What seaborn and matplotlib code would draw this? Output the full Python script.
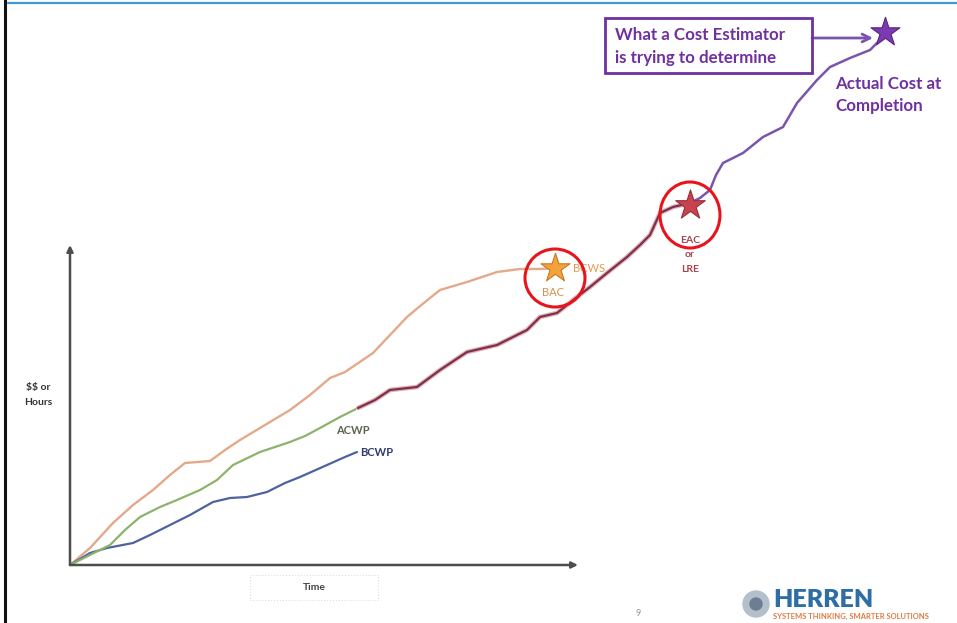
import matplotlib
matplotlib.use("Agg")
import matplotlib.pyplot as plt
from matplotlib.patches import Ellipse, Rectangle, Circle
import seaborn as sns
import pandas as pd

# Earned-value curves: time since project start vs. cumulative $$ / hours
bcws_t = [0, 20, 43, 63, 83, 100, 115, 140, 155, 170, 195, 220, 240, 260, 275, 303, 320, 337, 355, 370, 397, 427, 450, 470, 485]
bcws_v = [0, 17, 42, 60, 75, 90, 102, 104, 115, 125, 140, 155, 170, 187, 193, 212, 230, 248, 263, 275, 283, 293, 296, 296, 297]

acwp_t = [0, 20, 40, 55, 70, 90, 107, 130, 147, 163, 190, 220, 235, 250, 270, 288]
acwp_v = [0, 10, 20, 35, 48, 58, 65, 75, 85, 100, 113, 123, 129, 137, 148, 157]

bcwp_t = [0, 20, 37, 63, 80, 100, 120, 143, 160, 177, 197, 215, 230, 257, 275, 287]
bcwp_v = [0, 12, 17, 22, 30, 40, 50, 63, 67, 68, 73, 82, 88, 100, 108, 113]

eac_t = [288, 305, 320, 347, 370, 397, 427, 457, 470, 487, 507, 520, 537, 557, 570, 580, 590, 603, 620]
eac_v = [157, 165, 175, 178, 195, 213, 220, 235, 248, 252, 268, 278, 292, 308, 320, 330, 352, 358, 362]

actual_t = [620, 630, 640, 646, 653, 673, 693, 713, 720, 727, 747, 760, 780, 800, 808, 813]
actual_v = [362, 367, 375, 390, 402, 412, 428, 438, 450, 462, 485, 498, 507, 515, 523, 532]

# Milestone stars
bac_pt = (485, 297)
eac_pt = (620, 360)
final_pt = (815, 533)

axis_len_t = 508
axis_len_v = 320

PURPLE = "#7030A0"
LINE_PURPLE = "#7B55AD"

sns.set_theme(style="white")
plt.rcParams["font.family"] = ["Lato", "DejaVu Sans"]
plt.rcParams["text.parse_math"] = False

fig = plt.figure(figsize=(9.57, 6.23), dpi=100)
ax = fig.add_axes([0, 0, 1, 1])
ax.set_xlim(-70, 887)
ax.set_ylim(-58, 565)
ax.axis("off")

def frame(t, v, name):
    return pd.DataFrame({"t": t, "v": v, "series": name})

# Slide frame: blue rule at top, black rule at left
ax.plot([0.008, 1.0], [0.995, 0.995], transform=ax.transAxes, color="#3D9AD6", lw=1.6)
ax.plot([0.005, 0.005], [0.0, 1.0], transform=ax.transAxes, color="#111111", lw=2.2)

# Axes arrows
arrow_kw = dict(arrowstyle="-|>", color="#4d4d4d", lw=1.8, mutation_scale=9, shrinkA=0, shrinkB=0)
ax.annotate("", xy=(0, axis_len_v), xytext=(0, 0), arrowprops=arrow_kw)
ax.annotate("", xy=(axis_len_t, 0), xytext=(0, 0), arrowprops=arrow_kw)

# Curves
sns.lineplot(data=frame(bcws_t, bcws_v, "BCWS"), x="t", y="v", ax=ax, color="#E3A98A", lw=1.7, sort=False, legend=False)
sns.lineplot(data=frame(bcwp_t, bcwp_v, "BCWP"), x="t", y="v", ax=ax, color="#4E62A2", lw=1.6, sort=False, legend=False)
sns.lineplot(data=frame(acwp_t, acwp_v, "ACWP"), x="t", y="v", ax=ax, color="#8DB36B", lw=1.6, sort=False, legend=False)
sns.lineplot(data=frame(eac_t, eac_v, "EAC"), x="t", y="v", ax=ax, color="#E2B5BE", lw=3.4, sort=False, legend=False)
sns.lineplot(data=frame(eac_t, eac_v, "EAC"), x="t", y="v", ax=ax, color="#7E3046", lw=1.6, sort=False, legend=False)
sns.lineplot(data=frame(actual_t, actual_v, "Actual"), x="t", y="v", ax=ax, color=LINE_PURPLE, lw=1.8, sort=False, legend=False)

# Stars
ax.scatter([bac_pt[0]], [bac_pt[1]], marker="*", s=480, color="#F2A33A", edgecolor="#C77A25", lw=0.8, zorder=5)
ax.scatter([eac_pt[0]], [eac_pt[1]], marker="*", s=500, color="#C8424F", edgecolor="#9A2E3A", lw=0.8, zorder=5)
ax.scatter([final_pt[0]], [final_pt[1]], marker="*", s=480, color="#7B3AB0", edgecolor="#5A2385", lw=0.8, zorder=5)

# Red highlight circles
ax.add_patch(Ellipse((bac_pt[0], bac_pt[1] - 10), 60, 58, fill=False, ec="#E8141B", lw=2.2, zorder=6))
ax.add_patch(Ellipse((eac_pt[0], eac_pt[1] - 10), 60, 66, fill=False, ec="#E8141B", lw=2.2, zorder=6))

# Curve labels
ax.text(bac_pt[0] + 18, bac_pt[1], "BCWS", color="#E39A50", fontsize=8, ha="left", va="center")
ax.text(bac_pt[0] - 2, bac_pt[1] - 25, "BAC", color="#D8904A", fontsize=8, ha="center", va="center")
ax.text(eac_pt[0], eac_pt[1] - 31, "EAC\nor\nLRE", color="#A8404D", fontsize=7.5, fontweight="bold",
        ha="center", va="top", linespacing=1.75)
ax.text(283, 135, "ACWP", color="#5B6650", fontsize=8, fontweight="bold", ha="center", va="center")
ax.text(307, 113, "BCWP", color="#2F3C72", fontsize=8, fontweight="bold", ha="center", va="center")
ax.text(-32, 170, "$$ or\nHours", color="#333333", fontsize=7.5, fontweight="bold", ha="center", va="center", linespacing=1.85)

# Time label in a faint dotted box
ax.add_patch(Rectangle((180, -35), 128, 25, fill=False, ec="#dedede", lw=0.8, ls=":"))
ax.text(244, -23, "Time", color="#444444", fontsize=7.5, fontweight="bold", ha="center", va="center")

# Callout box and arrow to the final star
ax.add_patch(Rectangle((535, 492), 207, 55, fill=False, ec=PURPLE, lw=2.0, zorder=4))
ax.text(545, 530, "What a Cost Estimator", color=PURPLE, fontsize=12.2, fontweight="bold", ha="left", va="center")
ax.text(545, 507, "is trying to determine", color=PURPLE, fontsize=12.2, fontweight="bold", ha="left", va="center")
ax.annotate("", xy=(final_pt[0] - 12, 527), xytext=(742, 527),
            arrowprops=dict(arrowstyle="->", color=LINE_PURPLE, lw=2.0, mutation_scale=14, shrinkA=0, shrinkB=0))
ax.text(765, 481, "Actual Cost at", color=PURPLE, fontsize=12.2, fontweight="bold", ha="left", va="center")
ax.text(765, 459, "Completion", color=PURPLE, fontsize=12.2, fontweight="bold", ha="left", va="center")

# Footer: page number and company mark
ax.text(568, -48, "9", color="#999999", fontsize=6.5, ha="center", va="center")
ax.add_patch(Circle((686, -39), 13, color="#B3BFCB", zorder=3))
ax.add_patch(Circle((686, -39), 6, color="#6C7E92", zorder=4))
ax.text(703, -35, "HERREN", color="#2F6EA5", fontsize=18, fontweight="heavy", ha="left", va="center")
ax.text(703, -51, "SYSTEMS THINKING, SMARTER SOLUTIONS", color="#E07A45", fontsize=5.5, fontweight="bold",
        ha="left", va="center")

fig.savefig("out.png", dpi=100, facecolor="white")
